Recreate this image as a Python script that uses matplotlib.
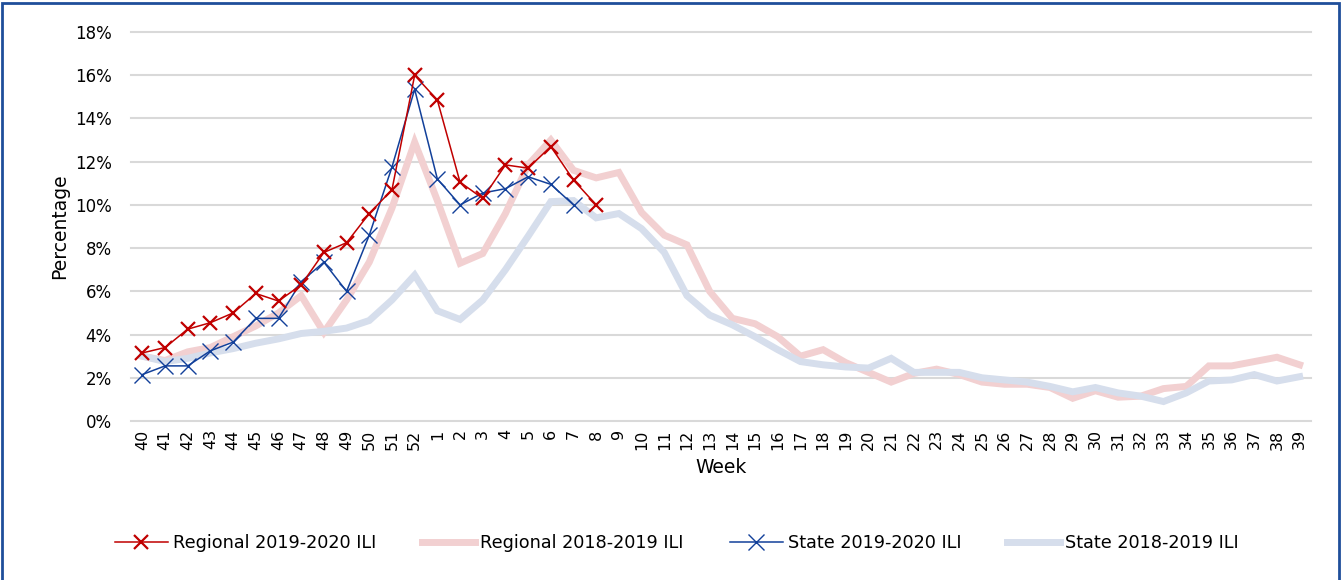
import numpy as np
import matplotlib.pyplot as plt
from matplotlib.patches import Rectangle

weeks = [str(w) for w in list(range(40, 53)) + list(range(1, 40))]

regional_1920 = [3.15, 3.4, 4.25, 4.55, 5.0, 5.9, 5.55, 6.3, 7.8, 8.25, 9.6, 10.7, 16.0,
                 14.85, 11.05, 10.3, 11.85, 11.7, 12.7, 11.15, 10.0]
state_1920 = [2.15, 2.55, 2.55, 3.25, 3.65, 4.75, 4.75, 6.45, 7.35, 6.0, 8.6, 11.75, 15.35,
              11.2, 10.0, 10.55, 10.75, 11.3, 10.95, 10.0]
regional_1819 = [3.0, 2.8, 3.2, 3.4, 3.9, 4.4, 5.0, 5.8, 4.1, 5.6, 7.35, 9.85, 12.9,
                 10.2, 7.3, 7.75, 9.6, 11.85, 13.0, 11.6, 11.25, 11.5, 9.65, 8.6, 8.15,
                 6.0, 4.75, 4.5, 3.9, 3.0, 3.3, 2.7, 2.25, 1.8, 2.2, 2.4, 2.15, 1.8,
                 1.7, 1.7, 1.55, 1.05, 1.4, 1.1, 1.15, 1.5, 1.6, 2.55, 2.55, 2.75, 2.95, 2.6]
state_1819 = [3.0, 2.75, 2.9, 3.15, 3.35, 3.6, 3.8, 4.05, 4.15, 4.3, 4.65, 5.6, 6.75,
              5.1, 4.7, 5.6, 7.0, 8.55, 10.15, 10.2, 9.4, 9.6, 8.9, 7.8, 5.8,
              4.9, 4.45, 3.9, 3.3, 2.75, 2.6, 2.5, 2.45, 2.9, 2.25, 2.25, 2.25, 2.0,
              1.9, 1.8, 1.6, 1.35, 1.55, 1.3, 1.15, 0.9, 1.3, 1.85, 1.9, 2.15, 1.85, 2.05]

x = np.arange(len(weeks))

fig = plt.figure(figsize=(13.43, 5.8), dpi=100)
ax = fig.add_axes([131 / 1343, 1 - 421 / 580, 1180 / 1343, 389 / 580])

ax.plot(x, regional_1819, color="#F2D0D1", lw=5, solid_joinstyle="miter",
        label="Regional 2018-2019 ILI", zorder=2)
ax.plot(x, state_1819, color="#D6DEEC", lw=5, solid_joinstyle="miter",
        label="State 2018-2019 ILI", zorder=2)
ax.plot(x[:len(regional_1920)], regional_1920, color="#C00000", lw=1.1, marker="x",
        ms=10, mew=1.6, label="Regional 2019-2020 ILI", zorder=4)
ax.plot(x[:len(state_1920)], state_1920, color="#12409A", lw=1.1, marker="x",
        ms=11, mew=1.0, label="State 2019-2020 ILI", zorder=3)

ax.set_xlim(-0.5, len(weeks) - 0.5)
ax.set_ylim(0, 18)
ax.set_yticks(np.arange(0, 19, 2))
ax.set_yticklabels([f"{v}%" for v in range(0, 19, 2)], fontsize=12)
ax.set_xticks(x)
ax.set_xticklabels(weeks, rotation=90, fontsize=11.5)
ax.tick_params(length=0, pad=6)
ax.tick_params(axis="y", pad=14)
ax.grid(axis="y", color="#D9D9D9", lw=1.5)
for g in ax.yaxis.get_gridlines():
    g.set_clip_on(False)
ax.set_axisbelow(True)
for s in ax.spines.values():
    s.set_visible(False)

ax.set_xlabel("Week", fontsize=13.5, labelpad=6)
ax.set_ylabel("Percentage", fontsize=13.5, labelpad=4)

h, l = ax.get_legend_handles_labels()
order = [2, 0, 3, 1]
fig.legend([h[i] for i in order], [l[i] for i in order], loc="center",
           bbox_to_anchor=(677 / 1343, 1 - 543 / 580), ncol=4, frameon=False,
           fontsize=12.7, handlelength=3.0, columnspacing=2.6, handletextpad=0.3)

fig.patches.append(Rectangle((2 / 1343, -0.05), 1337 / 1343, 1.05 - 3 / 580,
                             transform=fig.transFigure, fill=False,
                             edgecolor="#1F4E9A", lw=2))

fig.savefig("out.png", dpi=100)
